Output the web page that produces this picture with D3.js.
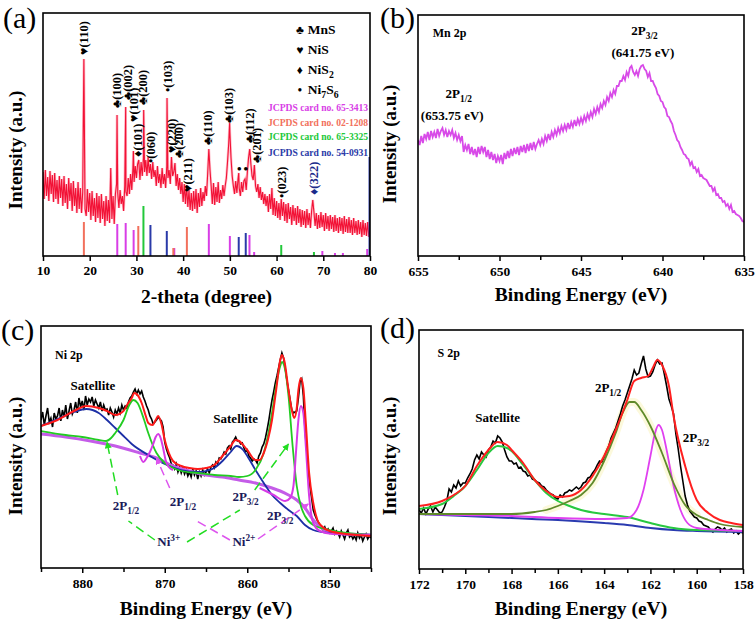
<!DOCTYPE html>
<html><head><meta charset="utf-8">
<script src="https://cdn.jsdelivr.net/npm/d3@7"></script>
<style>body{margin:0;background:#fff}</style>
</head><body><svg id="fig" width="756" height="624"></svg>
<script>
// ---------------- DATA ----------------
// (a) XRD pattern, 2-theta 10..80 step 0.25 (intensity in a.u.)
const xrdStart = 10, xrdStep = 0.25;
const xrdIntensity = [
84,57,86,60,79,55,85,62, 81,54,83,57,76,52,80,58, 77,50,80,53,72,47,78,55, 73,45,75,50,68,43,74,47,
68,43,64,197,47,40,67,44, 63,36,65,40,58,34,63,38, 60,33,62,37,55,30,60,35, 56,33,88,37,60,32,62,72,
63,48,66,52,60,45,70,64, 60,78,62,82,66,88,74,90, 78,92,96,76,94,80,98,84, 96,80,99,83,92,77,94,79,
86,70,90,73,82,68,88,72, 82,68,90,78,86,72,99,80, 84,93,70,82,66,78,62,74, 54,72,52,71,49,66,46,63,
45,65,47,67,43,63,49,68, 50,64,55,70,60,82,107,86, 70,52,73,51,69,54,74,53, 66,57,71,60,70,78,94,112,
124,98,80,70,62,75,63,77, 68,60,74,64,75,77,66,84, 98,107,92,80,76,91,70,64, 72,58,69,56,64,52,62,50,
60,44,62,47,68,41,58,40, 55,38,53,36,57,40,54,35, 52,33,53,37,49,31,51,35, 48,31,50,33,47,29,46,31,
45,28,47,31,43,28,45,56, 44,30,43,27,41,28,44,29, 41,25,43,27,40,25,41,27, 39,24,41,25,38,23,39,25,
38,22,40,24,37,23,39,23, 36,21,38,23,35,21,36,22, 34,19,36,21,33,20,34,19, 26];
const xrdPeakTops = [[25.85,141],[27.7,149],[29.35,105],[31.55,146],[36.55,158],[49.95,133],[51.9,83]];
// reference cards: [2theta, relative height]
const card65_3413 = [[25.9,32],[27.7,33],[29.4,26],[38.1,8],[45.5,32],[50.0,20],[54.2,21],[55.2,4],[69.8,5],[72.5,3],[74.2,3],[79.4,7]];
const card02_1208 = [[18.75,34],[30.4,30],[37.9,8],[40.8,29]];
const card65_3325 = [[31.5,50],[61.0,11],[68.0,4]];
const card54_0931 = [[33.0,31],[36.5,25],[51.9,19],[53.4,23],[79.9,99]];
const xrdLabels = [[18.6,201,"♥(110)"],[25.8,148,"♣(100)"],[28.1,156,"♣(002)"],[29.3,134,"♥(101)"],[30.3,99,"♦(101)"],
 [31.4,151,"♣(200)"],[33.1,93,"•(060)"],[36.7,164,"•(103)"],[37.5,103,"♥(220)"],[38.9,98,"♣(200)"],[41.0,64,"♥(211)"],
 [45.3,111,"♣(110)"],[49.8,133,"♣(103)"],[54.1,113,"♣(112)"],[55.6,93,"♣(201)"],[61.1,58,"•(023)"],[67.8,61,"♦(322)"]];
const xrdDots = [[52.0,83],[53.4,83]];
const legendSymbols = ["♣","♥","♦","•"];
const legendNames = [["MnS",""],["NiS",""],["NiS","2"],["Ni","7","S","6"]];
const cardNames = ["JCPDS card no. 65-3413","JCPDS card no. 02-1208","JCPDS card no. 65-3325","JCPDS card no. 54-0931"];
const xrdTicks = [10,20,30,40,50,60,70,80];

// (b) Mn 2p, 655 -> 635 eV step 0.1
const mnStart = 655, mnStep = -0.1;
const mn2p = [
116,111,120,113,122, 117,124,116,125,119, 124,118,127,120,125, 128,121,126,119,125, 121,126,118,123,116,
121,115,120,104,111, 106,112,102,109,101, 107,99,109,102,110, 104,109,99,106,97, 104,96,102,93,100,
95,101,92,103,97, 105,98,107,100,108, 102,109,101,110,104, 111,103,112,105,113, 106,114,107,112,116,
111,117,112,120,115, 122,116,124,119,126, 121,128,123,130,125, 131,126,133,127,134, 129,136,130,137,132,
138,133,140,135,142, 137,144,139,147,142, 149,144,152,148,155, 151,159,155,163,159, 166,162,170,170,175,
175,180,176,184,180, 188,190,184,181,185, 180,187,190,191,187, 185,179,183,175,175, 171,168,162,160,155,
154,149,147,140,139, 135,132,125,121,116, 114,109,106,102,101, 98,97,91,94,88, 89,84,87,80,81,
78,77,76,73,70, 70,65,68,61,62, 58,58,54,55,50, 52,47,51,44,45, 42,41,40,38,35, 34];
const mnTicks = [655,650,645,640,635], mnMinor = [652.5,647.5,642.5,637.5];

// (c) Ni 2p, 885 -> 845 eV step 0.2
const niStart = 885, niStep = -0.2;
const ni2p = [
148,156,143,152,160,146,150,141,155,149, 152,160,147,158,151,163,149,157,165,154,
158,166,155,170,161,167,158,172,163,169, 166,171,162,168,164,160,166,157,163,158,
159,153,160,156,151,158,154,160,155,163, 158,162,160,166,170,172,176,179,174,178,
174,177,171,167,162,158,152,149,144,146, 148,151,149,147,141,126,119,114,110,104,
103,99,104,96,101,95,100,94,98,92, 96,91,99,93,97,89,96,92,98,93,
96,99,95,101,103,100,106,104,110,109, 112,116,114,120,122,119,126,128,131,127,
127,124,125,120,116,118,112,110,107,109, 108,105,112,115,121,124,130,138,147,158,
168,176,185,192,200,208,215,210,200,188, 178,168,158,155,156,157,170,186,189,172,
138,118,96,82,70,58,53,49,46,43, 40,38,41,36,39,35,37,40,34,37,
35,31,37,33,29,35,38,31,33,29, 32,28,35,30,33,27,31,34,29,32, 30];
const niEnvelope = [[885,142],[883,148],[881,157],[879.5,162],[878,160],[877,157],[876,153],[875,157],[874.5,164],[874,170],[873.7,175],[873.3,173],[872.8,165],[872.3,152],[872,145],[871.5,143],[871.1,148],[870.8,152],[870.4,144],[870,128],[869.5,115],[869,107],[868,102],[867,100],[866,99],[865,100],[864,103],[863,112],[862,122],[861.4,128],[861,127],[860,118],[859,108],[858.5,108],[858,115],[857.5,128],[857,148],[856.5,178],[856,208],[855.8,213],[855.5,207],[855,178],[854.6,158],[854.3,150],[854,160],[853.8,178],[853.5,190],[853.2,180],[852.9,145],[852.5,95],[852,65],[851.5,48],[851,42],[850,37],[848,34],[845,32]];
const niNi3 = [[885,137],[882,133],[880,131],[878,128],[877.1,127],[876.5,130],[876,135],[875,148],[874.3,163],[873.8,168],[873.3,165],[872.5,148],[872,135],[871,115],[870,105],[869,100],[868,97],[866,95],[864,93],[862,92],[861,91],[860,92],[859,98],[858,115],[857.5,132],[857,155],[856.5,182],[856,202],[855.8,206],[855.4,198],[855,172],[854.5,122],[854,82],[853.5,62],[853,52],[852,43],[850,38],[848,35],[845,33]];
const niSat = [[885,142],[883,149],[881,156],[879.5,159],[878,155],[877,148],[876,140],[875,132],[874,124],[872,113],[870,104],[868,98],[866,96],[865,97],[864,100],[863,107],[862,116],[861.3,122],[860.5,118],[860,112],[859,98],[858,85],[857,73],[856,65],[855,58],[854,52],[853,43],[852,38],[850,35],[845,33]];
const niBackground = [[885,134],[882,131],[879,127],[876,122],[873,115],[871,110],[869,102],[867,97],[865,93],[863,91],[861,88],[859,85],[857,80],[856,77],[855,73],[854,68],[853,60],[852,48],[851,40],[850,36],[848,34],[845,33]];
const niNi2a = [[873.0,112],[872.6,106],[872.2,110],[871.8,116],[871.4,124],[871.1,131],[870.8,134],[870.5,130],[870.2,120],[869.9,108],[869.5,101],[869.0,98]];
const niNi2b = [[858.5,80],[856.8,73],[855.4,67],[854.8,70],[854.4,82],[854.1,115],[853.8,148],[853.5,162],[853.2,155],[852.9,122],[852.5,72],[852.0,45],[851.2,37],[849.6,34],[845,33]];
const niTicks = [880,870,860,850], niMinor = [885,875,865,855,845];

// (d) S 2p, 172 -> 158 eV step 0.1
const sStart = 172, sStep = -0.1;
const s2p = [
59,56,61,55,60,63,57,62,59,56, 57,62,68,80,77,84,81,88,83,86, 86,91,95,100,109,114,110,117,114,112,
119,122,128,126,133,131,127,119,112,108, 108,105,106,101,102,98,97,93,94,90, 89,87,86,83,82,79,77,75,74,71,
70,74,72,76,77,79,78,80,82,80, 82,86,87,91,92,96,99,104,108,107, 112,118,123,131,136,141,148,155,163,169,
176,183,190,199,194,196,205,213,200,192, 193,197,204,209,205,206,195,183,170,163, 155,135,120,103,88,73,64,58,55,52,
51,48,47,44,43,42,39,37,40,42, 41,39,41,37,39,40,36,38,35,37, 36];
const sEnvelope = [[172,63],[171,68],[170.5,74],[170,83],[169.5,103],[169,119],[168.6,127],[168.2,124],[168,119],[167.5,106],[167,89],[166.5,78],[166,72],[165.5,73],[165,79],[164.5,93],[164,113],[163.5,139],[163,169],[162.7,188],[162.4,191],[162.1,193],[161.9,201],[161.7,209],[161.5,204],[161.2,183],[161,153],[160.5,103],[160,69],[159.5,56],[159,49],[158.5,46],[158,44]];
const sSat = [[172,60],[171,65],[170.5,73],[170,83],[169.5,99],[169,116],[168.6,123],[168.2,121],[168,118],[167.5,104],[167,89],[166.5,76],[166,68],[165.5,63],[165,59],[164,55],[163,52],[162,46],[161,41],[160,39],[158,38]];
const sP12 = [[172,55],[170,55],[168,55],[167,57],[166.5,59],[166,63],[165.5,68],[165,74],[164.5,86],[164,108],[163.5,136],[163.2,156],[162.9,167],[162.7,167],[162.4,159],[162,143],[161.5,116],[161,86],[160.5,64],[160,54],[159.5,49],[159,45],[158,42]];
const sP32 = [[172,55],[170,54],[168,53],[166,51],[164,50],[163,51],[162.6,59],[162.3,79],[162,113],[161.8,136],[161.65,144],[161.5,139],[161.3,119],[161,83],[160.7,59],[160.4,46],[160,41],[159,39],[158,38]];
const sBase = [[172,55],[170,53],[168,51],[166,49],[164,46],[163,44],[162,41],[161,39],[160,38],[158,37]];
const sTicks = [172,170,168,166,164,162,160,158], sMinor = [171,169,167,165,163,161,159];

// ---------------- DRAWING ----------------
const F = '"Liberation Serif","Times New Roman",serif';
const svg = d3.select("#fig");
const defs = svg.append("defs");
function marker(id,color){
  defs.append("marker").attr("id",id).attr("viewBox","0 0 10 10").attr("refX",9).attr("refY",5)
   .attr("markerWidth",7).attr("markerHeight",7).attr("orient","auto").attr("markerUnits","userSpaceOnUse")
   .append("path").attr("d","M0,0L10,5L0,10z").attr("fill",color);
}
marker("ag","#22dd22"); marker("am","#dd55ee");

function panel(o){
  const x = d3.scaleLinear().domain(o.xd).range([o.l,o.r]);
  const y = d3.scaleLinear().domain([0,o.b-o.t]).range([o.b,o.t]);
  const cid = "clip-"+o.name;
  defs.append("clipPath").attr("id",cid).append("rect").attr("x",o.l).attr("y",o.t).attr("width",o.r-o.l).attr("height",o.b-o.t);
  const plot = svg.append("g").attr("clip-path",`url(#${cid})`);
  const ax = svg.append("g").attr("transform",`translate(0,${o.b})`)
    .call(d3.axisBottom(x).tickValues(o.ticks).tickSize(5).tickPadding(o.pad).tickFormat(d3.format("d")));
  ax.select(".domain").remove();
  ax.attr("font-family",F).attr("font-size",13.5).attr("font-weight","bold");
  ax.selectAll("line").attr("stroke-width",1.5);
  if(o.minor){
    const m = svg.append("g").attr("transform",`translate(0,${o.b})`)
      .call(d3.axisBottom(x).tickValues(o.minor).tickSize(4).tickFormat(""));
    m.select(".domain").remove(); m.selectAll("line").attr("stroke-width",1.5);
  }
  svg.append("rect").attr("x",o.l).attr("y",o.t).attr("width",o.r-o.l).attr("height",o.b-o.t)
    .attr("fill","none").attr("stroke","#000").attr("stroke-width",1.6);
  svg.append("text").attr("x",(o.l+o.r)/2).attr("y",o.xty).attr("text-anchor","middle")
    .attr("font-family",F).attr("font-weight","bold").attr("font-size",19.5).text(o.xtitle);
  svg.append("text").attr("transform",`translate(${o.ytx},${o.yty}) rotate(-90)`).attr("text-anchor","middle")
    .attr("font-family",F).attr("font-weight","bold").attr("font-size",19).text("Intensity (a.u.)");
  svg.append("text").attr("x",o.lx).attr("y",o.ly).attr("font-family",F).attr("font-size",30).text(o.letter);
  return {x,y,plot};
}
function rich(x,y,parts,o={}){
  const s = o.size||13;
  const t = svg.append("text").attr("x",x).attr("y",y).attr("font-family",F).attr("font-weight","bold")
    .attr("font-size",s).attr("text-anchor",o.anchor||"start").attr("fill",o.fill||"#000");
  let shift = 0;
  parts.forEach(p=>{
    const sp = t.append("tspan").text(p[0]);
    let target = 0;
    if(p[1]==="sub"){ sp.attr("font-size",s*0.72); target = s*0.3; }
    else if(p[1]==="sup"){ sp.attr("font-size",s*0.72); target = -s*0.42; }
    if(target-shift!==0) sp.attr("dy",target-shift);
    shift = target;
  });
  return t;
}
const lineOf = (P,curve)=>d3.line().x(d=>P.x(d[0])).y(d=>P.y(d[1])).curve(curve||d3.curveLinear);
const seq = (arr,start,step)=>arr.map((v,i)=>[start+i*step,v]);

// ---- (a) ----
const A = panel({name:"a",xd:[10,80],l:43,r:370,t:13,b:256,ticks:xrdTicks,pad:4,
  xtitle:"2-theta (degree)",xty:303,ytx:22,yty:150,letter:"(a)",lx:3,ly:28});
const xrdPts = seq(xrdIntensity,xrdStart,xrdStep).concat(xrdPeakTops).sort((a,b)=>a[0]-b[0]);
A.plot.append("path").datum(xrdPts).attr("d",lineOf(A)).attr("fill","none").attr("stroke","#ff8aa0").attr("stroke-width",2.6).attr("opacity",0.55);
A.plot.append("path").datum(xrdPts).attr("d",lineOf(A)).attr("fill","none").attr("stroke","#f21236").attr("stroke-width",1.1);
const cardColors = ["#d83ee6","#f2705c","#22c83a","#2a3aa8"];
[card65_3413,card02_1208,card65_3325,card54_0931].forEach((c,k)=>{
  A.plot.selectAll(null).data(c).enter().append("line")
    .attr("x1",d=>A.x(d[0])).attr("x2",d=>A.x(d[0])).attr("y1",A.y(0)).attr("y2",d=>A.y(d[1]))
    .attr("stroke",cardColors[k]).attr("stroke-width",2);
});
xrdLabels.forEach(d=>{
  const px=A.x(d[0]), py=A.y(d[1]);
  svg.append("text").attr("x",px).attr("y",py).attr("dy","0.36em").attr("transform",`rotate(-90,${px},${py})`)
    .attr("font-family",F).attr("font-weight","bold").attr("font-size",12.5)
    .attr("fill", d[2].includes("322")?"#1a2a8a":"#000").text(d[2]);
});
xrdDots.forEach(d=>{ svg.append("text").attr("x",A.x(d[0])).attr("y",A.y(d[1])).attr("text-anchor","middle")
  .attr("font-family",F).attr("font-weight","bold").attr("font-size",13).text("•"); });
legendSymbols.forEach((s,i)=>{
  const yy = A.y(222-i*20);
  svg.append("text").attr("x",A.x(65.0)).attr("y",yy).attr("text-anchor","middle").attr("font-family",F)
    .attr("font-weight","bold").attr("font-size",12).text(s);
  const n = legendNames[i];
  const parts = [[n[0]]]; if(n[1]) parts.push([n[1],"sub"]); if(n[2]) parts.push([n[2]]); if(n[3]) parts.push([n[3],"sub"]);
  rich(A.x(66.7),yy,parts,{size:13.5});
});
cardNames.forEach((c,i)=>{
  svg.append("text").attr("x",A.x(79.6)).attr("y",A.y([145,130,116,100][i])).attr("text-anchor","end")
    .attr("font-family",F).attr("font-weight","bold").attr("font-size",9.6).attr("fill",cardColors[i]).text(c);
});

// ---- (b) ----
const B = panel({name:"b",xd:[655,635],l:418,r:744,t:15,b:256,ticks:mnTicks,minor:mnMinor,pad:5,
  xtitle:"Binding Energy (eV)",xty:301,ytx:396,yty:144,letter:"(b)",lx:380,ly:28});
B.plot.append("path").datum(seq(mn2p,mnStart,mnStep)).attr("d",lineOf(B)).attr("fill","none").attr("stroke","#d84ae8").attr("stroke-width",1.8);
rich(B.x(654.1),B.y(219),[["Mn 2p"]],{size:12});
rich(B.x(641.1),B.y(221),[["2P"],["3/2","sub"]],{anchor:"middle",size:13});
rich(B.x(641.2),B.y(199),[["(641.75 eV)"]],{anchor:"middle",size:13});
rich(B.x(652.5),B.y(158),[["2P"],["1/2","sub"]],{anchor:"middle",size:13});
rich(B.x(652.9),B.y(136),[["(653.75 eV)"]],{anchor:"middle",size:13});

// ---- (c) ----
const C = panel({name:"c",xd:[885,845],l:41,r:371,t:326,b:568,ticks:niTicks,minor:niMinor,pad:5,
  xtitle:"Binding Energy (eV)",xty:615,ytx:22,yty:456,letter:"(c)",lx:1,ly:340});
const sm = d3.curveMonotoneX;
C.plot.append("path").datum(seq(ni2p,niStart,niStep)).attr("d",lineOf(C)).attr("fill","none").attr("stroke","#000").attr("stroke-width",1.6);
C.plot.append("path").datum(niBackground).attr("d",lineOf(C,sm)).attr("fill","none").attr("stroke","#c45ce8").attr("stroke-width",3);
C.plot.append("path").datum(niSat).attr("d",lineOf(C,sm)).attr("fill","none").attr("stroke","#1c2fa6").attr("stroke-width",1.8);
C.plot.append("path").datum(niNi3).attr("d",lineOf(C,sm)).attr("fill","none").attr("stroke","#22cc22").attr("stroke-width",1.8);
C.plot.append("path").datum(niNi2a).attr("d",lineOf(C,sm)).attr("fill","none").attr("stroke","#d63be6").attr("stroke-width",2);
C.plot.append("path").datum(niNi2b).attr("d",lineOf(C,sm)).attr("fill","none").attr("stroke","#d63be6").attr("stroke-width",2);
C.plot.append("path").datum(niEnvelope).attr("d",lineOf(C,sm)).attr("fill","none").attr("stroke","#ff1a1a").attr("stroke-width",2);
const greenDash = [[[871.2,28],[874.4,47],false],[[875.7,73],[877.0,126],true],[[867.3,26],[860.9,58],false],[[859.1,78],[855.0,124],true]];
const magDash = [[[862.1,28],[866.1,47],false],[[869.4,80],[871.0,110],true],[[858.7,29],[852.6,64],true]];
[[greenDash,"#22dd22","ag"],[magDash,"#dd55ee","am"]].forEach(([segs,col,mk])=>{
  segs.forEach(s=>{
    const ln = svg.append("line").attr("x1",C.x(s[0][0])).attr("y1",C.y(s[0][1])).attr("x2",C.x(s[1][0])).attr("y2",C.y(s[1][1]))
      .attr("stroke",col).attr("stroke-width",1.5).attr("stroke-dasharray","9,5");
    if(s[2]) ln.attr("marker-end",`url(#${mk})`);
  });
});
rich(C.x(883.3),C.y(209),[["Ni 2p"]],{size:12});
rich(C.x(878.7),C.y(178),[["Satellite"]],{anchor:"middle",size:13});
rich(C.x(861.4),C.y(145),[["Satellite"]],{anchor:"middle",size:13});
rich(C.x(876.3),C.y(58),[["2P"],["1/2","sub"]],{size:13,fill:"#1a1a5a"});
rich(C.x(869.4),C.y(62),[["2P"],["1/2","sub"]],{size:13,fill:"#1a1a5a"});
rich(C.x(861.8),C.y(67),[["2P"],["3/2","sub"]],{size:13,fill:"#1a1a5a"});
rich(C.x(857.6),C.y(48),[["2P"],["3/2","sub"]],{size:13,fill:"#1a1a5a"});
rich(C.x(870.9),C.y(22),[["Ni"],["3+","sup"]],{size:13,fill:"#1a1a5a"});
rich(C.x(861.8),C.y(22),[["Ni"],["2+","sup"]],{size:13,fill:"#1a1a5a"});

// ---- (d) ----
const D = panel({name:"d",xd:[172,158],l:419,r:743,t:330,b:569,ticks:sTicks,minor:sMinor,pad:5,
  xtitle:"Binding Energy (eV)",xty:615,ytx:396,yty:456,letter:"(d)",lx:380,ly:338});
D.plot.append("path").datum(sP12.filter(d=>d[0]<=166.5&&d[0]>=160)).attr("d",lineOf(D,sm)).attr("fill","none").attr("stroke","#fcf9dc").attr("stroke-width",8).attr("stroke-linecap","round");
D.plot.append("path").datum(seq(s2p,sStart,sStep)).attr("d",lineOf(D)).attr("fill","none").attr("stroke","#000").attr("stroke-width",1.6);
D.plot.append("path").datum(sBase).attr("d",lineOf(D,sm)).attr("fill","none").attr("stroke","#2a3bb0").attr("stroke-width",2);
D.plot.append("path").datum(sSat).attr("d",lineOf(D,sm)).attr("fill","none").attr("stroke","#28c840").attr("stroke-width",2);
D.plot.append("path").datum(sP32).attr("d",lineOf(D,sm)).attr("fill","none").attr("stroke","#e040f0").attr("stroke-width",1.8);
D.plot.append("path").datum(sP12).attr("d",lineOf(D,sm)).attr("fill","none").attr("stroke","#5f8a2a").attr("stroke-width",1.8);
D.plot.append("path").datum(sEnvelope).attr("d",lineOf(D,sm)).attr("fill","none").attr("stroke","#ff2020").attr("stroke-width",2);
rich(D.x(171.2),D.y(212),[["S 2p"]],{size:12});
rich(D.x(168.6),D.y(147),[["Satellite"]],{anchor:"middle",size:13});
rich(D.x(164.4),D.y(177),[["2P"],["1/2","sub"]],{size:13});
rich(D.x(160.6),D.y(127),[["2P"],["3/2","sub"]],{size:13});
</script></body></html>
